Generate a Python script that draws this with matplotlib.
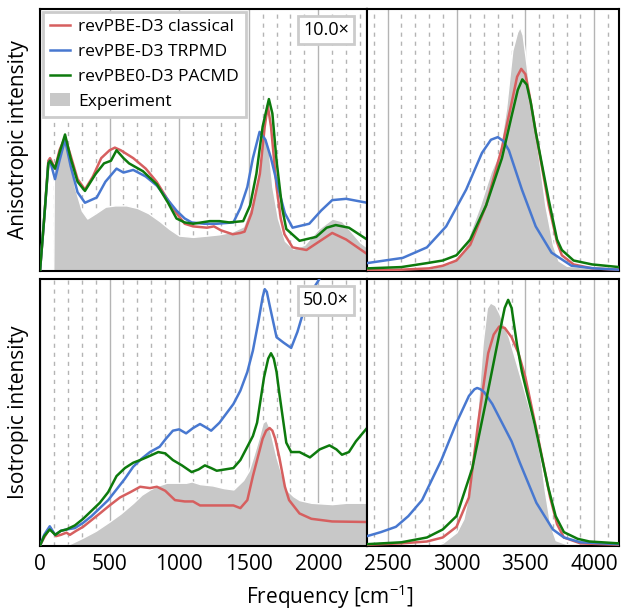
import matplotlib
matplotlib.use("Agg")
import matplotlib.pyplot as plt
from matplotlib.ticker import MultipleLocator
from matplotlib.patches import Patch
from matplotlib.lines import Line2D

plt.rcParams['font.family'] = ['Open Sans', 'DejaVu Sans']
plt.rcParams['mathtext.default'] = 'regular'

# ---------------- data (displayed intensities, arbitrary units) ----------------
labels = ["revPBE-D3 classical", "revPBE-D3 TRPMD", "revPBE0-D3 PACMD", "Experiment"]
colors = ["#d65f5f", "#4878d0", "#0d7a0d", "#c8c8c8"]
scale_labels = ["10.0\u00d7", "50.0\u00d7"]
ylabels = ["Anisotropic intensity", "Isotropic intensity"]
x_split = 2350
x_max = 4180

# --- anisotropic, low-frequency region (shown 10x) ---
aniso_low_cl_f = [0, 30, 60, 72, 108, 140, 180, 220, 270, 323, 380, 440, 500, 538, 580, 670, 760, 838, 920, 981, 1040, 1100, 1200, 1250, 1300, 1385, 1440, 1470, 1520, 1580, 1615, 1637, 1660, 1700, 1730, 1757, 1815, 1915, 2000, 2100, 2200, 2350]
aniso_low_cl_v = [0, 0.2, 0.42, 0.43, 0.39, 0.46, 0.51, 0.44, 0.35, 0.31, 0.36, 0.43, 0.46, 0.47, 0.46, 0.43, 0.39, 0.34, 0.27, 0.22, 0.18, 0.17, 0.165, 0.17, 0.155, 0.14, 0.145, 0.15, 0.22, 0.37, 0.55, 0.63, 0.55, 0.32, 0.2, 0.14, 0.09, 0.08, 0.11, 0.145, 0.12, 0.065]
aniso_low_tr_f = [0, 30, 60, 72, 108, 140, 180, 220, 270, 323, 408, 470, 550, 600, 670, 760, 840, 920, 981, 1040, 1090, 1180, 1270, 1390, 1440, 1490, 1530, 1578, 1620, 1660, 1710, 1760, 1815, 1935, 2020, 2100, 2200, 2350]
aniso_low_tr_v = [0, 0.2, 0.41, 0.42, 0.35, 0.42, 0.50, 0.40, 0.30, 0.26, 0.28, 0.34, 0.39, 0.375, 0.385, 0.36, 0.325, 0.27, 0.23, 0.2, 0.185, 0.18, 0.18, 0.185, 0.24, 0.32, 0.43, 0.53, 0.5, 0.43, 0.32, 0.22, 0.165, 0.18, 0.23, 0.27, 0.275, 0.26]
aniso_low_pa_f = [0, 30, 60, 72, 108, 140, 180, 220, 270, 323, 400, 460, 510, 550, 600, 640, 740, 840, 920, 981, 1040, 1100, 1160, 1220, 1290, 1360, 1460, 1510, 1555, 1600, 1645, 1670, 1700, 1740, 1770, 1865, 1985, 2060, 2125, 2220, 2350]
aniso_low_pa_v = [0, 0.2, 0.41, 0.42, 0.39, 0.45, 0.52, 0.43, 0.34, 0.305, 0.37, 0.41, 0.42, 0.46, 0.43, 0.41, 0.38, 0.33, 0.26, 0.2, 0.185, 0.18, 0.185, 0.19, 0.19, 0.185, 0.19, 0.25, 0.37, 0.55, 0.655, 0.6, 0.42, 0.24, 0.16, 0.115, 0.13, 0.165, 0.175, 0.165, 0.12]
aniso_low_ex_f = [0, 95, 100, 120, 150, 180, 210, 250, 300, 340, 400, 470, 540, 620, 700, 780, 860, 930, 1000, 1100, 1200, 1290, 1380, 1460, 1530, 1570, 1610, 1640, 1670, 1710, 1760, 1820, 1900, 2000, 2100, 2170, 2220, 2300, 2350]
aniso_low_ex_v = [0, 0, 0.40, 0.44, 0.46, 0.50, 0.45, 0.32, 0.23, 0.20, 0.22, 0.245, 0.25, 0.25, 0.24, 0.22, 0.19, 0.16, 0.135, 0.13, 0.135, 0.14, 0.15, 0.17, 0.27, 0.38, 0.53, 0.48, 0.32, 0.2, 0.115, 0.085, 0.1, 0.16, 0.2, 0.19, 0.16, 0.11, 0.09]

# --- anisotropic, OH-stretch region ---
aniso_high_cl_f = [2350, 2600, 2800, 2900, 3000, 3100, 3215, 3330, 3400, 3440, 3470, 3500, 3530, 3575, 3670, 3730, 3765, 3850, 3985, 4180]
aniso_high_cl_v = [0.003, 0.005, 0.01, 0.02, 0.04, 0.1, 0.25, 0.47, 0.64, 0.74, 0.77, 0.75, 0.67, 0.53, 0.25, 0.11, 0.06, 0.025, 0.01, 0.005]
aniso_high_tr_f = [2350, 2610, 2785, 2925, 3070, 3185, 3250, 3300, 3340, 3380, 3475, 3575, 3690, 3835, 4000, 4180]
aniso_high_tr_v = [0.03, 0.05, 0.09, 0.17, 0.31, 0.45, 0.50, 0.51, 0.495, 0.46, 0.31, 0.17, 0.07, 0.02, 0.01, 0.005]
aniso_high_pa_f = [2350, 2600, 2785, 2900, 3000, 3100, 3215, 3330, 3400, 3445, 3478, 3510, 3540, 3575, 3670, 3730, 3765, 3850, 3985, 4180]
aniso_high_pa_v = [0.01, 0.015, 0.03, 0.04, 0.06, 0.12, 0.25, 0.43, 0.59, 0.69, 0.73, 0.71, 0.64, 0.53, 0.27, 0.12, 0.08, 0.04, 0.025, 0.015]
aniso_high_ex_f = [2350, 2800, 2950, 3050, 3170, 3250, 3310, 3360, 3405, 3440, 3460, 3480, 3500, 3540, 3575, 3645, 3700, 3740, 3800, 3900, 4180]
aniso_high_ex_v = [0.005, 0.01, 0.03, 0.08, 0.25, 0.38, 0.45, 0.62, 0.84, 0.91, 0.93, 0.9, 0.82, 0.65, 0.52, 0.25, 0.1, 0.04, 0.02, 0.015, 0.01]

# --- isotropic, low-frequency region (shown 50x) ---
iso_low_cl_f = [0, 30, 72, 115, 150, 190, 215, 260, 310, 370, 430, 500, 575, 650, 720, 790, 840, 900, 970, 1040, 1100, 1150, 1250, 1390, 1440, 1490, 1530, 1570, 1600, 1625, 1650, 1670, 1690, 1720, 1760, 1790, 1865, 1950, 2100, 2350]
iso_low_cl_v = [0, 0.03, 0.067, 0.035, 0.04, 0.048, 0.04, 0.055, 0.07, 0.095, 0.12, 0.15, 0.18, 0.20, 0.22, 0.215, 0.22, 0.205, 0.17, 0.165, 0.165, 0.15, 0.15, 0.15, 0.14, 0.17, 0.26, 0.34, 0.40, 0.43, 0.44, 0.43, 0.40, 0.33, 0.22, 0.17, 0.12, 0.1, 0.09, 0.088]
iso_low_tr_f = [0, 30, 70, 108, 150, 190, 250, 310, 370, 430, 490, 550, 610, 670, 730, 790, 860, 905, 955, 1000, 1050, 1100, 1150, 1200, 1230, 1290, 1340, 1390, 1440, 1490, 1530, 1570, 1600, 1615, 1630, 1650, 1700, 1750, 1805, 1850, 1890, 1950, 2010, 2100, 2200, 2350]
iso_low_tr_v = [0, 0.04, 0.072, 0.04, 0.055, 0.06, 0.065, 0.085, 0.11, 0.14, 0.17, 0.21, 0.25, 0.295, 0.325, 0.35, 0.37, 0.4, 0.43, 0.435, 0.42, 0.44, 0.455, 0.44, 0.43, 0.46, 0.495, 0.53, 0.58, 0.65, 0.73, 0.84, 0.93, 0.96, 0.95, 0.9, 0.78, 0.76, 0.74, 0.8, 0.87, 0.95, 1.0, 1.2, 1.5, 2.0]
iso_low_pa_f = [0, 30, 70, 110, 150, 190, 250, 310, 370, 430, 490, 550, 610, 670, 720, 765, 850, 900, 955, 1020, 1090, 1140, 1185, 1230, 1270, 1330, 1390, 1440, 1490, 1530, 1560, 1610, 1640, 1660, 1680, 1700, 1720, 1770, 1805, 1865, 1940, 2010, 2080, 2130, 2170, 2220, 2270, 2350]
iso_low_pa_v = [0, 0.035, 0.06, 0.04, 0.055, 0.06, 0.075, 0.1, 0.13, 0.16, 0.2, 0.26, 0.29, 0.31, 0.32, 0.33, 0.35, 0.345, 0.32, 0.3, 0.275, 0.285, 0.30, 0.29, 0.28, 0.285, 0.29, 0.32, 0.37, 0.41, 0.46, 0.63, 0.70, 0.72, 0.70, 0.65, 0.57, 0.385, 0.35, 0.35, 0.33, 0.36, 0.375, 0.36, 0.34, 0.35, 0.39, 0.44]
iso_low_ex_f = [0, 190, 250, 310, 400, 500, 580, 670, 730, 790, 850, 910, 980, 1050, 1090, 1150, 1240, 1320, 1390, 1460, 1500, 1530, 1570, 1600, 1625, 1650, 1700, 1740, 1770, 1820, 1865, 1950, 2100, 2200, 2350]
iso_low_ex_v = [0, 0, 0.015, 0.03, 0.055, 0.09, 0.12, 0.16, 0.19, 0.21, 0.225, 0.235, 0.235, 0.235, 0.24, 0.23, 0.225, 0.215, 0.21, 0.245, 0.28, 0.33, 0.40, 0.46, 0.47, 0.44, 0.33, 0.26, 0.21, 0.185, 0.17, 0.16, 0.155, 0.16, 0.16]

# --- isotropic, OH-stretch region ---
iso_high_cl_f = [2350, 2600, 2785, 2900, 3000, 3090, 3160, 3230, 3270, 3310, 3350, 3400, 3450, 3500, 3590, 3680, 3730, 3780, 3900, 4180]
iso_high_cl_v = [0.003, 0.008, 0.015, 0.03, 0.07, 0.18, 0.47, 0.72, 0.79, 0.82, 0.815, 0.78, 0.72, 0.63, 0.41, 0.18, 0.08, 0.03, 0.008, 0.003]
iso_high_tr_f = [2350, 2450, 2560, 2650, 2750, 2890, 3000, 3090, 3130, 3150, 3175, 3200, 3260, 3330, 3400, 3460, 3520, 3580, 3640, 3700, 3780, 3900, 4180]
iso_high_tr_v = [0.035, 0.05, 0.07, 0.11, 0.17, 0.32, 0.46, 0.56, 0.585, 0.59, 0.585, 0.575, 0.53, 0.46, 0.39, 0.31, 0.235, 0.16, 0.11, 0.06, 0.03, 0.012, 0.005]
iso_high_pa_f = [2350, 2600, 2785, 2900, 3000, 3115, 3210, 3310, 3350, 3375, 3400, 3440, 3475, 3570, 3665, 3720, 3780, 3880, 3965, 4180]
iso_high_pa_v = [0.005, 0.012, 0.03, 0.06, 0.11, 0.29, 0.53, 0.79, 0.89, 0.92, 0.89, 0.75, 0.65, 0.45, 0.22, 0.11, 0.05, 0.025, 0.015, 0.008]
iso_high_ex_f = [2350, 2850, 2900, 3000, 3050, 3090, 3130, 3160, 3190, 3220, 3245, 3280, 3310, 3380, 3470, 3520, 3570, 3610, 3640, 3680, 3720, 3800, 4180]
iso_high_ex_v = [0, 0, 0.01, 0.05, 0.1, 0.2, 0.36, 0.56, 0.76, 0.89, 0.91, 0.9, 0.87, 0.78, 0.62, 0.53, 0.44, 0.33, 0.21, 0.08, 0.02, 0.005, 0]

panels = [
    [  # anisotropic row
        [(aniso_low_cl_f, aniso_low_cl_v), (aniso_low_tr_f, aniso_low_tr_v), (aniso_low_pa_f, aniso_low_pa_v), (aniso_low_ex_f, aniso_low_ex_v)],
        [(aniso_high_cl_f, aniso_high_cl_v), (aniso_high_tr_f, aniso_high_tr_v), (aniso_high_pa_f, aniso_high_pa_v), (aniso_high_ex_f, aniso_high_ex_v)],
    ],
    [  # isotropic row
        [(iso_low_cl_f, iso_low_cl_v), (iso_low_tr_f, iso_low_tr_v), (iso_low_pa_f, iso_low_pa_v), (iso_low_ex_f, iso_low_ex_v)],
        [(iso_high_cl_f, iso_high_cl_v), (iso_high_tr_f, iso_high_tr_v), (iso_high_pa_f, iso_high_pa_v), (iso_high_ex_f, iso_high_ex_v)],
    ],
]

# ---------------- figure ----------------
W, H = 621, 610
fig = plt.figure(figsize=(W / 100, H / 100), dpi=100)

xl, xm, xr = 40, 367, 619
rows_px = [(8.5, 271), (278.5, 545.5)]

def frac_rect(x0, x1, y0, y1):
    return [x0 / W, (H - y1) / H, (x1 - x0) / W, (y1 - y0) / H]

axes = []
for r, (y0, y1) in enumerate(rows_px):
    axL = fig.add_axes(frac_rect(xl, xm, y0, y1))
    axR = fig.add_axes(frac_rect(xm, xr, y0, y1))
    axes.append((axL, axR))
    for c, ax in enumerate((axL, axR)):
        series = panels[r][c]
        ex_f, ex_v = series[3]
        ax.fill_between(ex_f, 0, ex_v, color=colors[3], edgecolor='white', linewidth=1.0, zorder=2)
        for k in range(3):
            f, v = series[k]
            ax.plot(f, v, color=colors[k], lw=1.8, zorder=3 + k, solid_joinstyle='round')
        if c == 0:
            ax.set_xlim(0, x_split)
        else:
            ax.set_xlim(x_split, x_max)
        ax.set_ylim(0, 1.0)
        ax.xaxis.set_major_locator(MultipleLocator(500))
        ax.xaxis.set_minor_locator(MultipleLocator(100))
        ax.grid(True, which='major', axis='x', color='#b4b4b4', lw=1.0, zorder=1)
        ax.grid(True, which='minor', axis='x', color='#b4b4b4', lw=1.0, ls=(0, (3, 3.5)), zorder=1)
        ax.set_axisbelow(True)
        ax.set_yticks([])
        ax.tick_params(axis='x', which='both', length=0, pad=6, labelsize=15)
        for s in ax.spines.values():
            s.set_linewidth(1.5)
            s.set_color('black')
        if r == 0:
            ax.tick_params(axis='x', labelbottom=False)
    axL = axes[r][0]
    axL.set_ylabel(ylabels[r], fontsize=15, labelpad=8)
    axL.text(0.875, 0.918, scale_labels[r], transform=axL.transAxes, ha='center', va='center',
             fontsize=13, zorder=10,
             bbox=dict(boxstyle='square,pad=0.3', facecolor='white', edgecolor='#cccccc', linewidth=2))

# legend
handles = [Line2D([], [], color=colors[k], lw=1.8) for k in range(3)] + [Patch(facecolor=colors[3], edgecolor='none')]
leg = axes[0][0].legend(handles, labels, loc='upper left', fontsize=12.5, frameon=True, fancybox=False,
                        framealpha=1, edgecolor='#cccccc', borderaxespad=0.2, handlelength=1.1,
                        handletextpad=0.5, borderpad=0.4, labelspacing=0.5)
leg.get_frame().set_linewidth(2)
leg.set_zorder(20)

fig.text((xl + xr) / 2 / W, (H - 597) / H, "Frequency [cm$^{-1}$]", ha='center', va='center', fontsize=15)

fig.savefig("out.png", dpi=100)
